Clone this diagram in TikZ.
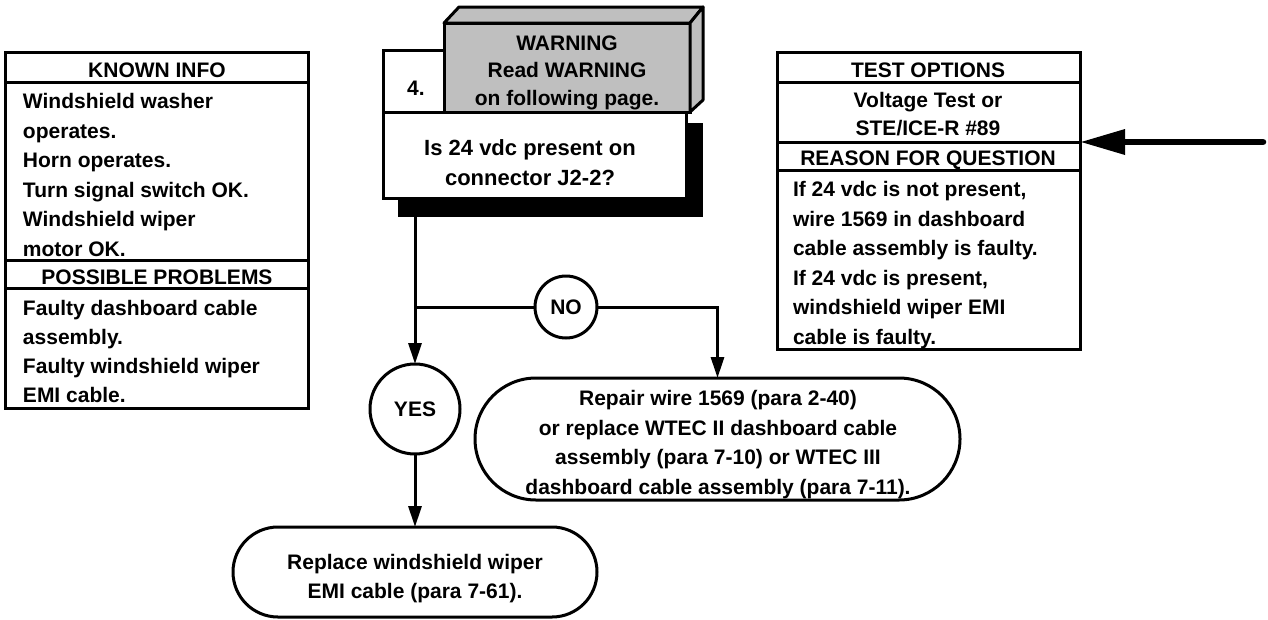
\documentclass[tikz,border=0pt]{standalone}
\usepackage{fontspec}
\setmainfont{Liberation Sans}
\usetikzlibrary{arrows.meta,calc}
\begin{document}
\begin{tikzpicture}[x=1pt,y=-1pt,
  every node/.style={outer sep=0pt},
  box/.style={draw, line width=3pt, inner sep=0pt, fill=white, anchor=north west},
  txt/.style={inner sep=0pt, font=\fontsize{21}{29.6}\selectfont\bfseries},
  conn/.style={line width=3pt, -{Triangle[length=21pt,width=13pt]}},
  plain/.style={line width=3pt},
  bigarrow/.style={line width=6.5pt, line cap=round, -{Triangle[length=45pt,width=24pt]}},
  circ/.style={draw, circle, line width=3pt, fill=white, inner sep=0pt, font=\fontsize{21}{25}\selectfont\bfseries},
  pill/.style={draw, line width=3pt, fill=white, inner sep=0pt, anchor=north west}]
\useasboundingbox (0,0) rectangle (1268,619);

% ---------- left box ----------
\node[box, minimum width=303pt, minimum height=30pt] (kh) at (5,52) {};
\node[box, minimum width=303pt, minimum height=178pt] (kb) at (5,82) {};
\node[box, minimum width=303pt, minimum height=28pt] (ph) at (5,260) {};
\node[box, minimum width=303pt, minimum height=120pt] (pb) at (5,288) {};
\node[txt] (khT) at (157,71.6) {KNOWN INFO\strut};
\node[txt, align=left, anchor=west] (kbT) at (23,176.6) {Windshield washer\strut\\operates.\strut\\Horn operates.\strut\\Turn signal switch OK.\strut\\Windshield wiper\strut\\motor OK.\strut};
\node[txt] (phT) at (157,278.6) {POSSIBLE PROBLEMS\strut};
\node[txt, align=left, anchor=west, font=\fontsize{21}{29}\selectfont\bfseries] (pbT) at (23,353) {Faulty dashboard cable\strut\\assembly.\strut\\Faulty windshield wiper\strut\\EMI cable.\strut};

% ---------- right box ----------
\node[box, minimum width=303pt, minimum height=30pt] (th) at (777,52) {};
\node[box, minimum width=303pt, minimum height=60pt] (tb) at (777,82) {};
\node[box, minimum width=303pt, minimum height=28pt] (rh) at (777,142) {};
\node[box, minimum width=303pt, minimum height=179pt] (rb) at (777,170) {};
\node[txt] (thT) at (928,71.6) {TEST OPTIONS\strut};
\node[txt, align=center, font=\fontsize{21}{28}\selectfont\bfseries] (tbT) at (928,115.6) {Voltage Test or\strut\\STE/ICE-R \#89\strut};
\node[txt] (rhT) at (928,159.6) {REASON FOR QUESTION\strut};
\node[txt, align=left, anchor=west] (rbT) at (793,264.6) {If 24 vdc is not present,\strut\\wire 1569 in dashboard\strut\\cable assembly is faulty.\strut\\If 24 vdc is present,\strut\\windshield wiper EMI\strut\\cable is faulty.\strut};

\coordinate (src) at (1263,142);
\draw[bigarrow] (src) -- (tb.south east);

% ---------- centre step box ----------
\node[fill=black, inner sep=0pt, anchor=north west, minimum width=305pt, minimum height=94pt] (shadow) at (398,123) {};
\node[box, fill=gray!50, minimum width=246pt, minimum height=89pt] (front) at (444,23) {};
\draw[line width=3pt, fill=gray!50, line join=round] (front.north west) -- (459,7) -- (703,7) -- (front.north east) -- cycle;
\draw[line width=3pt, fill=gray!50, line join=round] (front.north east) -- (703,7) -- (703,100) -- (front.south east) -- cycle;
\node[box, minimum width=61pt, minimum height=62pt] (num) at (383,50) {};
\node[box, minimum width=303pt, minimum height=86pt] (q) at (383,112) {};
\node[txt, align=center, font=\fontsize{21}{27.5}\selectfont\bfseries] (warnT) at (567,72) {WARNING\strut\\Read WARNING\strut\\on following page.\strut};
\node[txt] (numT) at (416,89.6) {4.\strut};
\node[txt, align=center, font=\fontsize{22}{30}\selectfont\bfseries] (qT) at (530,164) {Is 24 vdc present on\strut\\connector J2-2?\strut};

% ---------- decisions ----------
\node[circ, minimum size=62pt] (no) at (566,307) {NO};
\node[circ, minimum size=90pt] (yes) at (415,409) {YES};

% ---------- result boxes ----------
\node[pill, minimum width=485pt, minimum height=122pt, rounded corners=61pt] (repair) at (475,378) {};
\node[txt, align=center] (repairT) at (718,444) {Repair wire 1569 (para 2-40)\strut\\or replace WTEC II dashboard cable\strut\\assembly (para 7-10) or WTEC III\strut\\dashboard cable assembly (para 7-11).\strut};
\node[pill, minimum width=364pt, minimum height=90pt, rounded corners=45pt] (replace) at (233,527) {};
\node[txt, align=center] (replaceT) at (415,578) {Replace windshield wiper\strut\\EMI cable (para 7-61).\strut};

% ---------- connectors ----------
\draw[conn] (shadow.south -| yes.north) -- (yes.north);
\draw[plain] (yes.north |- no.west) -- (no.west);
\draw[conn] (no.east) -- (no.east -| repair.north) -- (repair.north);
\draw[conn] (yes.south) -- (replace.north);
\end{tikzpicture}
\end{document}
